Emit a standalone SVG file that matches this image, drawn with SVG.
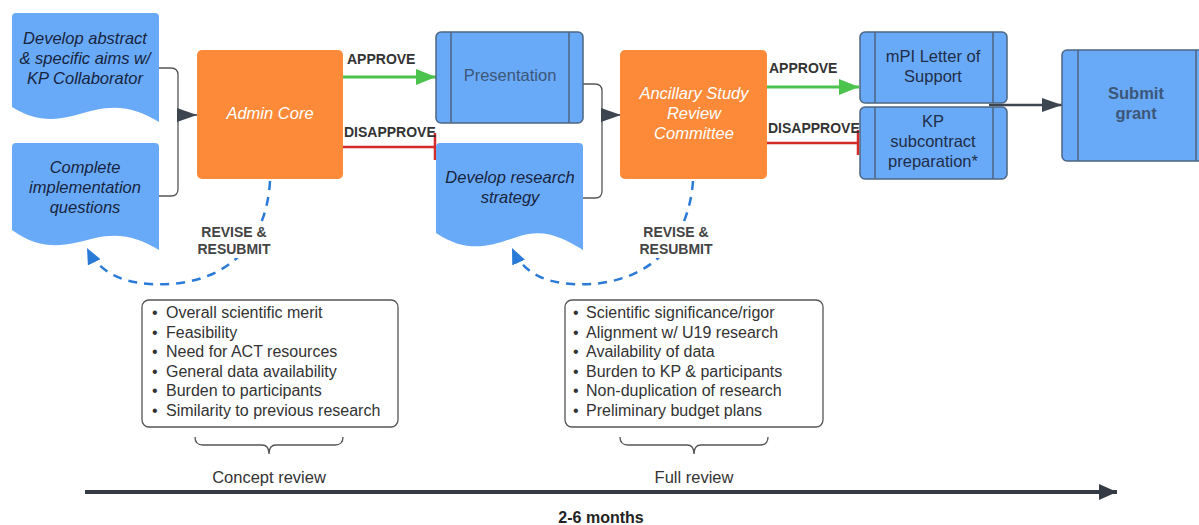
<svg xmlns="http://www.w3.org/2000/svg" width="1199" height="525" viewBox="0 0 1199 525">
<style>
.doc{fill:#69aaf8;}
.proc{fill:#69aaf8;stroke:#4d6580;stroke-width:1.5;}
.orange{fill:#fd8a39;}
.dt{font-family:"Liberation Sans",Arial,sans-serif;font-size:16.5px;font-style:italic;fill:#17243f;text-anchor:middle;}
.ot{font-family:"Liberation Sans",Arial,sans-serif;font-size:16.5px;font-style:italic;fill:#ffffff;text-anchor:middle;}
.pt{font-family:"Liberation Sans",Arial,sans-serif;font-size:16.5px;fill:#1f2d48;text-anchor:middle;}
.lbl{font-family:"Liberation Sans",Arial,sans-serif;font-size:14px;font-weight:bold;fill:#333;}
.lbc{font-family:"Liberation Sans",Arial,sans-serif;font-size:14px;font-weight:bold;fill:#444;text-anchor:middle;}
.li{font-family:"Liberation Sans",Arial,sans-serif;font-size:16px;fill:#333;}
.cap{font-family:"Liberation Sans",Arial,sans-serif;font-size:16.5px;fill:#333;text-anchor:middle;}
.brk{fill:none;stroke:#555;stroke-width:1.3;}
.box{fill:#fff;stroke:#555;stroke-width:1.3;}
</style>
<defs>
<marker id="ad" viewBox="0 0 20 14" refX="20" refY="7" markerWidth="20" markerHeight="14" orient="auto" markerUnits="userSpaceOnUse"><path d="M0,0 L20,7 L0,14 Z" fill="#3d4550"/></marker>
<marker id="agr" viewBox="0 0 20 16" refX="20" refY="8" markerWidth="20" markerHeight="16" orient="auto" markerUnits="userSpaceOnUse"><path d="M0,0 L20,8 L0,16 Z" fill="#4cc34c"/></marker>
<marker id="ab" viewBox="0 0 16 14" refX="16" refY="7" markerWidth="16" markerHeight="14" orient="auto" markerUnits="userSpaceOnUse"><path d="M0,0 L16,7 L0,14 Z" fill="#2a7bd8"/></marker>
<marker id="at" viewBox="0 0 18 16" refX="18" refY="8" markerWidth="18" markerHeight="16" orient="auto" markerUnits="userSpaceOnUse"><path d="M0,0 L18,8 L0,16 Z" fill="#343b45"/></marker>
</defs>

<g id="connectors">
  <path class="brk" d="M159,68 H171 Q178,68 178,75 V189 Q178,196 171,196 H159"/>
  <path d="M178,115 H197" stroke="#3d4550" stroke-width="1.5" marker-end="url(#ad)"/>
  <path class="brk" d="M583,84 H595 Q602,84 602,91 V191 Q602,198 595,198 H583"/>
  <path d="M602,115 H621" stroke="#3d4550" stroke-width="1.5" marker-end="url(#ad)"/>
  <path d="M343,77 H436" stroke="#4cc34c" stroke-width="3" marker-end="url(#agr)"/>
  <path d="M767,87 H859" stroke="#4cc34c" stroke-width="3" marker-end="url(#agr)"/>
  <path d="M343,147 H435 M435,133 V160" stroke="#d42a2a" stroke-width="2.5" fill="none"/>
  <path d="M767,143 H858 M858,130 V155" stroke="#d42a2a" stroke-width="2.5" fill="none"/>
  <path d="M989,105 H1062" stroke="#3d4550" stroke-width="2.5" marker-end="url(#ad)"/>
  <path d="M270,181 C266,250 220,288 150,284 C118,282 98,270 87,248" fill="none" stroke="#2a7bd8" stroke-width="2.5" stroke-dasharray="9,7" marker-end="url(#ab)"/>
  <path d="M693,181 C688,250 640,288 572,284 C540,282 522,270 512,248" fill="none" stroke="#2a7bd8" stroke-width="2.5" stroke-dasharray="9,7" marker-end="url(#ab)"/>
  <text class="lbl" x="347" y="64">APPROVE</text>
  <text class="lbl" x="344" y="137">DISAPPROVE</text>
  <text class="lbl" x="769" y="73">APPROVE</text>
  <text class="lbl" x="768" y="133">DISAPPROVE</text>
  <rect x="196" y="222" width="78" height="36" fill="#fff"/>
  <text class="lbc" x="234" y="237">REVISE &amp;</text>
  <text class="lbc" x="234" y="254">RESUBMIT</text>
  <rect x="637" y="222" width="78" height="36" fill="#fff"/>
  <text class="lbc" x="676" y="237">REVISE &amp;</text>
  <text class="lbc" x="676" y="254">RESUBMIT</text>
</g>

<g id="doc-abstract">
  <path class="doc" d="M12,17 Q12,13 16,13 H155 Q159,13 159,17 V122 C140,110 120,104 95,110 C70,116 45,128 12,107 Z"/>
  <text class="dt" x="85" y="44">Develop abstract</text>
  <text class="dt" x="85" y="64">&amp; specific aims w/</text>
  <text class="dt" x="85" y="84">KP Collaborator</text>
</g>
<g id="doc-questions">
  <path class="doc" d="M12,147 Q12,143 16,143 H155 Q159,143 159,147 V250 C140,238 120,232 95,238 C70,244 45,254 12,230 Z"/>
  <text class="dt" x="85" y="173">Complete</text>
  <text class="dt" x="85" y="193">implementation</text>
  <text class="dt" x="85" y="213">questions</text>
</g>
<g id="admin-core">
  <rect class="orange" x="197" y="50" width="146" height="129" rx="5"/>
  <text class="ot" x="270" y="119">Admin Core</text>
</g>
<g id="presentation">
  <rect class="proc" x="436" y="32" width="147" height="91" rx="5"/>
  <path d="M451,32 V123 M569,32 V123" stroke="#4d6580" stroke-width="1.5"/>
  <text class="pt" x="510" y="81" style="fill:#3c5678">Presentation</text>
</g>
<g id="doc-strategy">
  <path class="doc" d="M436,147 Q436,143 440,143 H579 Q583,143 583,147 V250 C564,238 544,228 520,236 C495,244 470,256 436,233 Z"/>
  <text class="dt" x="510" y="183">Develop research</text>
  <text class="dt" x="510" y="203">strategy</text>
</g>
<g id="ancillary">
  <rect class="orange" x="620" y="50" width="147" height="129" rx="5"/>
  <text class="ot" x="694" y="99">Ancillary Study</text>
  <text class="ot" x="694" y="119">Review</text>
  <text class="ot" x="694" y="139">Committee</text>
</g>
<g id="mpi-letter">
  <rect class="proc" x="860" y="32" width="147" height="71" rx="5"/>
  <path d="M875,32 V103 M993,32 V103" stroke="#4d6580" stroke-width="1.5"/>
  <text class="pt" x="933" y="62">mPI Letter of</text>
  <text class="pt" x="933" y="82">Support</text>
</g>
<g id="kp-subcontract">
  <rect class="proc" x="860" y="107" width="147" height="72" rx="5"/>
  <path d="M875,107 V179 M993,107 V179" stroke="#4d6580" stroke-width="1.5"/>
  <text class="pt" x="933" y="127">KP</text>
  <text class="pt" x="933" y="147">subcontract</text>
  <text class="pt" x="933" y="167">preparation*</text>
</g>
<g id="submit-grant">
  <rect class="proc" x="1062" y="50" width="150" height="111" rx="5"/>
  <path d="M1078,50 V161 M1196,50 V161" stroke="#4d6580" stroke-width="1.5"/>
  <text class="pt" x="1136" y="99" style="font-weight:bold;fill:#3c5678">Submit</text>
  <text class="pt" x="1136" y="119" style="font-weight:bold;fill:#3c5678">grant</text>
</g>

<g id="concept-criteria">
  <rect class="box" x="142" y="300" width="256" height="127" rx="7"/>
  <g class="li">
    <text x="152" y="318">•</text><text x="166" y="318">Overall scientific merit</text>
    <text x="152" y="338">•</text><text x="166" y="338">Feasibility</text>
    <text x="152" y="357">•</text><text x="166" y="357">Need for ACT resources</text>
    <text x="152" y="377">•</text><text x="166" y="377">General data availability</text>
    <text x="152" y="396">•</text><text x="166" y="396">Burden to participants</text>
    <text x="152" y="416">•</text><text x="166" y="416">Similarity to previous research</text>
  </g>
  <path class="brk" d="M195,437 Q195,445 203,445 H262 Q269,445 269,454 Q269,445 276,445 H335 Q343,445 343,437"/>
  <text class="cap" x="269" y="483">Concept review</text>
</g>
<g id="full-criteria">
  <rect class="box" x="565" y="300" width="258" height="127" rx="7"/>
  <g class="li">
    <text x="573" y="318">•</text><text x="586" y="318">Scientific significance/rigor</text>
    <text x="573" y="338">•</text><text x="586" y="338">Alignment w/ U19 research</text>
    <text x="573" y="357">•</text><text x="586" y="357">Availability of data</text>
    <text x="573" y="377">•</text><text x="586" y="377">Burden to KP &amp; participants</text>
    <text x="573" y="396">•</text><text x="586" y="396">Non-duplication of research</text>
    <text x="573" y="416">•</text><text x="586" y="416">Preliminary budget plans</text>
  </g>
  <path class="brk" d="M620,437 Q620,445 628,445 H687 Q694,445 694,454 Q694,445 701,445 H760 Q768,445 768,437"/>
  <text class="cap" x="694" y="483">Full review</text>
</g>
<g id="timeline">
  <path d="M85,492 H1117" stroke="#343b45" stroke-width="4" marker-end="url(#at)"/>
  <text class="lbc" x="601" y="523" style="font-size:16px;fill:#222">2-6 months</text>
</g>
</svg>
